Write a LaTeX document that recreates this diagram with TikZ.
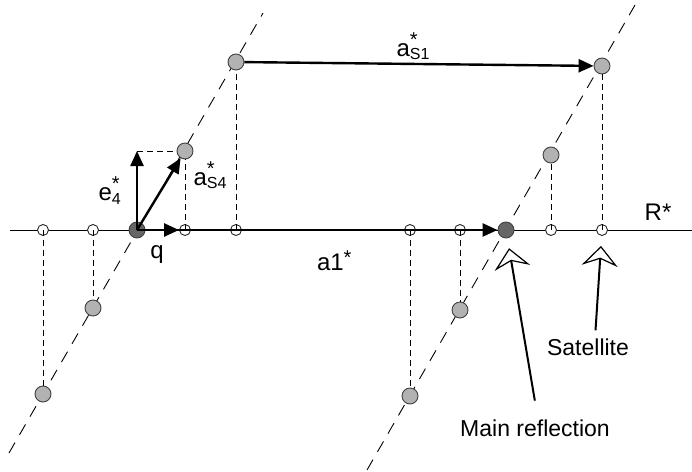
\documentclass[tikz,border=0pt]{standalone}
\usepackage{fontspec}
\setmainfont{Liberation Sans}
\usetikzlibrary{arrows.meta}
\newcommand{\recip}[2]{#1\rlap{\raisebox{10pt}{\fontsize{20}{20}\selectfont *}}\raisebox{-3.5pt}{\fontsize{16}{16}\selectfont #2}}
\tikzset{spot/.style={circle,draw=black!75,fill=black!30,line width=.9pt,minimum size=16pt,inner sep=0pt},
         bragg/.style={spot,fill=black!60},
         foot/.style={circle,draw=black!85,fill=white,line width=.9pt,minimum size=11pt,inner sep=0pt},
         proj/.style={line width=.9pt,dash pattern=on 6pt off 4pt},
         lattice/.style={line width=.9pt,dash pattern=on 12pt off 9pt},
         vec/.style={-{Triangle[length=15pt,width=13pt]},line width=2.4pt},
         hollow/.style={-{Stealth[open,fill=white,length=20pt,width=36pt,inset=7pt,line width=1.2pt]},line width=2pt,shorten >=10pt},
         lbl/.style={font=\fontsize{24}{28}\selectfont,inner sep=0pt},
         note/.style={font=\fontsize{23}{27}\selectfont,inner sep=0pt}}

\begin{document}
\begin{tikzpicture}[x=1pt,y=-1pt]
  \useasboundingbox (0,0) rectangle (692,471);
  % lattice rows through the main reflections
  \coordinate (la) at (9,453);   \coordinate (lb) at (263,13);
  \coordinate (lc) at (367,470); \coordinate (ld) at (635,5);
  \draw[lattice] (la) -- (lb) (lc) -- (ld);
  % R* axis
  \coordinate (axl) at (10,230); \coordinate (axr) at (692,230);
  \draw[line width=.9pt] (axl) -- (axr);
  \node[bragg] (m0) at (137,230) {};
  \node[bragg] (m1) at (506,230) {};
  \foreach \n/\px/\gy in {1/43/394,2/93/308,3/185/151,4/236/62,5/410/396,6/460/310,7/551/155,8/602/66}{
    \node[foot] (p\n) at (\px,230) {};
    \node[spot] (g\n) at (\px,\gy) {};
    \draw[proj] (p\n.center) -- (g\n);
  }
  % vectors
  \coordinate (e4top) at (137,151);
  \draw[proj] (e4top) -- (g3);
  \draw[vec] (m0.center) -- node[lbl,left=15pt]{\recip{e}{4}} (e4top);
  \draw[vec] (m0.center) -- (g3);
  \node[lbl] (as4) at (210,175) {\recip{a}{S4}};
  \draw[vec] (m0.center) -- (p3);
  \node[lbl] (qlab) at (157,255) {q};
  \draw[vec] (m0.center) -- node[lbl,below=20pt,xshift=17pt]{a1\raisebox{6pt}{\fontsize{20}{20}\selectfont *}} (m1);
  \draw[vec] (g4) -- node[lbl,above=3pt,xshift=-6pt]{\recip{a}{S1}} (g8);
  \node[lbl] (rs) at (658,212) {R*};
  % pointers
  \node[note] (sat) at (588,347) {Satellite};
  \node[note] (mr) at (535,428) {Main reflection};
  \draw[hollow,shorten <=8pt] ([xshift=7pt]sat.north) -- (p8);
  \draw[hollow,shorten <=19pt] ([xshift=3pt]mr.north) -- (m1);
\end{tikzpicture}
\end{document}
